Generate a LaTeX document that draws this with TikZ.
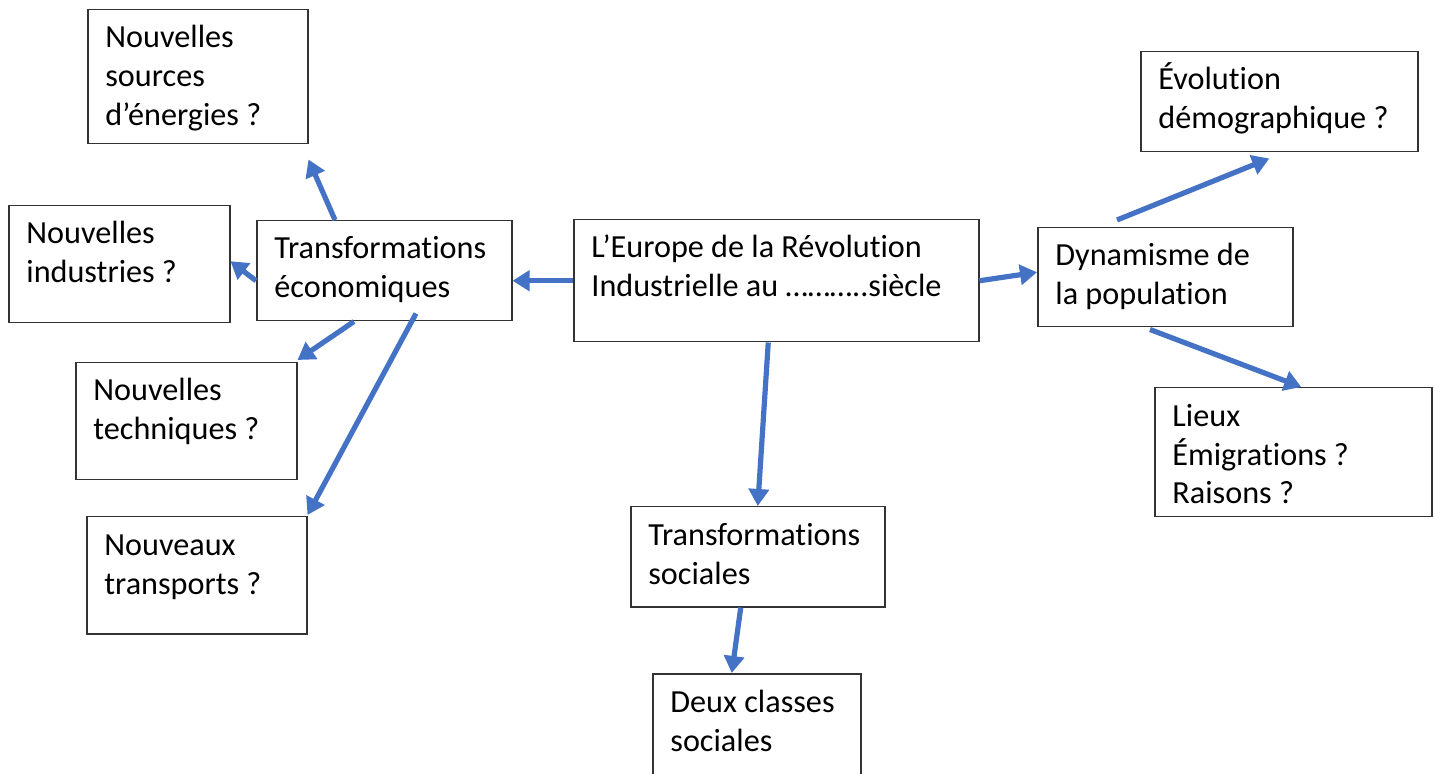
\documentclass[tikz,border=0pt]{standalone}
\usepackage{fontspec}
\setmainfont[Ligatures={NoCommon}]{Carlito}
\usetikzlibrary{arrows.meta}

\definecolor{bleu}{HTML}{4472C4}

\tikzset{
	boite/.style={draw=black!80, line width=0.75pt, anchor=north west, inner sep=0pt},
	texte/.style={anchor=base west, align=left, inner sep=0pt, font=\fontsize{16.1pt}{19.5pt}\selectfont},
	fl/.style={draw=bleu, line width=2.6pt, -{Triangle[length=8.5pt,width=10pt]}}
}

% boite : nom, x, y, largeur, hauteur, nombre de lignes, texte
\def\boite#1#2#3#4#5#6#7{
	\node[boite, minimum width=#4*0.5pt, minimum height=#5*0.5pt] (#1) at (#2,#3) {};
	\node[texte] (#1-t) at ([shift={(18,39*#6)}]#1.north west) {#7};
}

\begin{document}
\begin{tikzpicture}[x=0.5pt, y=-0.5pt]
	\path[use as bounding box, clip] (0,0) rectangle (1434,774);

	\boite{europe}{573}{219}{405}{122}{2}{L’Europe de la Révolution\\Industrielle au ………..siècle}
	\boite{eco}{256}{220}{255}{100}{2}{Transformations\\économiques}
	\boite{sources}{87}{9}{220}{134}{3}{Nouvelles\\sources\\d’énergies ?}
	\boite{industries}{8}{205}{221}{117}{2}{Nouvelles\\industries ?}
	\boite{techniques}{75}{362}{221}{117}{2}{Nouvelles\\techniques ?}
	\boite{transports}{86}{516}{220}{117}{2}{Nouveaux\\transports ?}
	\boite{dyn}{1037}{227}{255}{99}{2}{Dynamisme de\\la population}
	\boite{evol}{1140}{51}{277}{100}{2}{Évolution\\démographique ?}
	\boite{lieux}{1154}{387}{277}{129}{3}{Lieux\\Émigrations ?\\Raisons ?}
	\boite{soc}{630}{506}{254}{100}{2}{Transformations\\sociales}
	\boite{deux}{652}{673}{208}{130}{2}{Deux classes\\sociales}

	\coordinate (sources-fl) at ([shift={(0,15)}]sources.south east);
	\coordinate (dyn-haut) at ([shift={(80,-7)}]dyn.north west);
	\coordinate (evol-fl) at ([shift={(-10,6)}]evol.south);

	\draw[fl] (europe.west) -- (europe.west -| eco.east);
	\draw[fl] (europe.east) -- ([shift={(0,-5)}]dyn.west);
	\draw[fl] ([shift={(-8,0)}]europe.south) -- (soc.north);
	\draw[fl] ([shift={(-17,0)}]soc.south) -- ([shift={(-25,0)}]deux.north);

	\draw[fl] ([shift={(79,0)}]eco.north west) -- (sources-fl);
	\draw[fl] ([shift={(0,10)}]eco.west) -- ([shift={(0,-3)}]industries.east);
	\draw[fl] ([shift={(98,0)}]eco.south west) -- ([shift={(0,-2)}]techniques.north east);
	\draw[fl] ([shift={(160,-8)}]eco.south west) -- ([shift={(0,-1)}]transports.north east);

	\draw[fl] (dyn-haut) -- (evol-fl);
	\draw[fl] ([shift={(113,2)}]dyn.south west) -- ([shift={(8,0)}]lieux.north);
\end{tikzpicture}
\end{document}
